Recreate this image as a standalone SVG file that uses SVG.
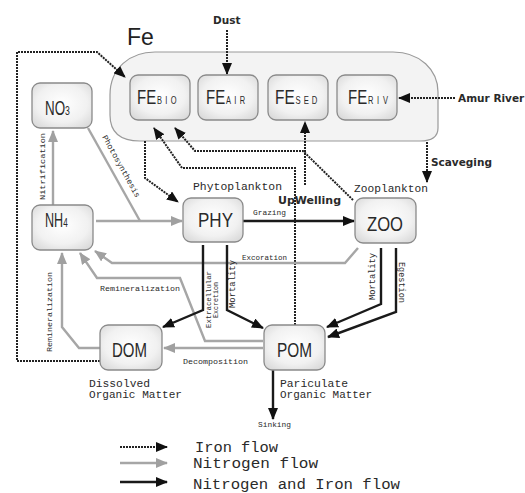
<svg xmlns="http://www.w3.org/2000/svg" width="525" height="493" viewBox="0 0 525 493">
<style>
.box{fill:url(#bg);stroke:#8a8a8a;stroke-width:1.3}
.big{font-family:"Liberation Sans",Arial,sans-serif;font-size:20px;fill:#2a2a2a}
.mono{font-family:"Liberation Mono","DejaVu Sans Mono",monospace;fill:#2a2a2a}
.sans{font-family:"DejaVu Sans",Verdana,sans-serif;fill:#2a2a2a;font-weight:bold}
.fe{fill:none;stroke:#222;stroke-width:2;stroke-dasharray:2 1}
.n{fill:none;stroke:#a6a6a6;stroke-width:2.4}
.b{fill:none;stroke:#1a1a1a;stroke-width:2.4}
</style>
<defs>
<radialGradient id="bg" cx="50%" cy="45%" r="70%">
<stop offset="0" stop-color="#ffffff"/>
<stop offset="0.6" stop-color="#f1f1f1"/>
<stop offset="1" stop-color="#d6d6d6"/>
</radialGradient>
<marker id="ak" markerWidth="12" markerHeight="10" refX="11" refY="5" orient="auto" markerUnits="userSpaceOnUse"><path d="M0,0 L12,5 L0,10 z" fill="#111"/></marker>
<marker id="ag" markerWidth="12" markerHeight="10" refX="11" refY="5" orient="auto" markerUnits="userSpaceOnUse"><path d="M0,0 L12,5 L0,10 z" fill="#a0a0a0"/></marker>
</defs>
<rect width="525" height="493" fill="#ffffff"/>

<g id="fe-pool">
<path d="M155,52 H393 C420,52 438,70 438,92 V128 Q438,141 420,141 H140 Q110,141 110,115 V95 C110,68 130,52 155,52 Z" fill="#f3f3f3" stroke="#9a9a9a" stroke-width="1.2"/>
<text x="127" y="45" font-family="Liberation Sans,Arial,sans-serif" font-size="23" fill="#222">Fe</text>
</g>

<g id="connectors">
<!-- iron flows -->
<path class="fe" d="M227,30 V74" marker-end="url(#ak)"/>
<path class="fe" d="M455,98 H399" marker-end="url(#ak)"/>
<path class="fe" d="M427,142 V182" marker-end="url(#ak)"/>
<path class="fe" d="M100,361 H17 V52 H97 L125,77" marker-end="url(#ak)"/>
<path class="fe" d="M145,141 V178 L178,202" marker-end="url(#ak)"/>
<path class="fe" d="M295,325 V168 H182 L154,128" marker-end="url(#ak)"/>
<path class="fe" d="M353,200 L303,151 H195 L175,128" marker-end="url(#ak)"/>
<path class="fe" d="M305,185 V122" marker-end="url(#ak)"/>
<!-- nitrogen flows -->
<path class="n" d="M53,205 V131" marker-end="url(#ag)"/>
<path class="n" d="M96,221 H182" marker-end="url(#ag)"/>
<path class="n" d="M88,128 L140,221"/>
<path class="n" d="M358,248 L345,263 H112 L95,251" marker-end="url(#ag)"/>
<path class="n" d="M263,341 H205 L180,278 H97 L80,253" marker-end="url(#ag)"/>
<path class="n" d="M100,348 H79 L62,327 V253" marker-end="url(#ag)"/>
<path class="n" d="M263,348 H164" marker-end="url(#ag)"/>
<!-- nitrogen and iron flows -->
<path class="b" d="M243,221 H354" stroke="#333" marker-end="url(#ak)"/>
<path class="b" d="M203,245 V310 L163,327" marker-end="url(#ak)"/>
<path class="b" d="M227,245 V310 L263,328" marker-end="url(#ak)"/>
<path class="b" d="M381,248 V304 L327,327" marker-end="url(#ak)"/>
<path class="b" d="M396,248 V312 L328,337" marker-end="url(#ak)"/>
<path class="b" d="M273,370 V419" marker-end="url(#ak)"/>
<!-- legend lines -->
<path class="fe" d="M120,447 H167" marker-end="url(#ak)"/>
<path class="n" d="M120,463 H167" marker-end="url(#ag)"/>
<path class="b" d="M120,482 H167" marker-end="url(#ak)"/>
</g>

<g id="no3"><rect class="box" x="32" y="83" width="60" height="45" rx="8"/>
<text class="big" transform="translate(45,115) scale(0.67,1)">NO<tspan font-size="13">3</tspan></text></g>
<g id="nh4"><rect class="box" x="32" y="205" width="61" height="45" rx="8"/>
<text class="big" transform="translate(45,227) scale(0.63,1)">NH<tspan font-size="13">4</tspan></text></g>
<g id="febio"><rect class="box" x="130" y="75" width="60" height="45" rx="8"/>
<text class="big" transform="translate(137,104) scale(0.75,1)">FE<tspan font-size="10" letter-spacing="4.5" dx="1">BIO</tspan></text></g>
<g id="feair"><rect class="box" x="198" y="75" width="60" height="45" rx="8"/>
<text class="big" transform="translate(206,104) scale(0.75,1)">FE<tspan font-size="10" letter-spacing="4.5" dx="1">AIR</tspan></text></g>
<g id="fesed"><rect class="box" x="268" y="75" width="60" height="45" rx="8"/>
<text class="big" transform="translate(275,104) scale(0.77,1)">FE<tspan font-size="10" letter-spacing="4" dx="1">SED</tspan></text></g>
<g id="feriv"><rect class="box" x="337" y="75" width="60" height="45" rx="8"/>
<text class="big" transform="translate(348,104) scale(0.75,1)">FE<tspan font-size="10" letter-spacing="5" dx="1">RIV</tspan></text></g>
<g id="phy"><rect class="box" x="183" y="198" width="60" height="44" rx="8"/>
<text class="big" x="198" y="227" textLength="35" lengthAdjust="spacingAndGlyphs">PHY</text></g>
<g id="zoo"><rect class="box" x="355" y="198" width="61" height="45" rx="8"/>
<text class="big" x="367" y="231" textLength="36" lengthAdjust="spacingAndGlyphs">ZOO</text></g>
<g id="dom"><rect class="box" x="100" y="325" width="62" height="45" rx="8"/>
<text class="big" x="112" y="357" textLength="35" lengthAdjust="spacingAndGlyphs">DOM</text></g>
<g id="pom"><rect class="box" x="264" y="325" width="61" height="45" rx="8"/>
<text class="big" x="277" y="357" textLength="35" lengthAdjust="spacingAndGlyphs">POM</text></g>

<g id="labels">
<text class="sans" x="213" y="24" font-size="10.5">Dust</text>
<text class="sans" x="458" y="102" font-size="10.5">Amur River</text>
<text class="sans" x="431" y="166" font-size="10.5">Scaveging</text>
<text class="sans" x="278" y="204" font-size="11" fill="#444">UpWelling</text>
<text class="mono" x="193" y="190" font-size="11.5" textLength="89" lengthAdjust="spacingAndGlyphs">Phytoplankton</text>
<text class="mono" x="354" y="192" font-size="11.5" textLength="74" lengthAdjust="spacingAndGlyphs">Zooplankton</text>
<text class="mono" x="253" y="215" font-size="7.5" textLength="33" lengthAdjust="spacingAndGlyphs">Grazing</text>
<text class="mono" x="242" y="260" font-size="7.5" textLength="45" lengthAdjust="spacingAndGlyphs">Excoration</text>
<text class="mono" x="100" y="291" font-size="8" textLength="80" lengthAdjust="spacingAndGlyphs">Remineralization</text>
<text class="mono" x="183" y="364" font-size="7.5" textLength="65" lengthAdjust="spacingAndGlyphs">Decomposition</text>
<text class="mono" x="258" y="427" font-size="7.5" textLength="33" lengthAdjust="spacingAndGlyphs">Sinking</text>
<text class="mono" x="89" y="387" font-size="11" textLength="61" lengthAdjust="spacingAndGlyphs">Dissolved</text>
<text class="mono" x="89" y="398" font-size="11" textLength="93" lengthAdjust="spacingAndGlyphs">Organic Matter</text>
<text class="mono" x="280" y="387" font-size="11" textLength="68" lengthAdjust="spacingAndGlyphs">Pariculate</text>
<text class="mono" x="280" y="398" font-size="11" textLength="92" lengthAdjust="spacingAndGlyphs">Organic Matter</text>
<text class="mono" transform="translate(45,200) rotate(-90)" font-size="7.5" textLength="67" lengthAdjust="spacingAndGlyphs">Nitrification</text>
<text class="mono" transform="translate(102,137) rotate(61)" font-size="8" textLength="70" lengthAdjust="spacingAndGlyphs">Photosynthesis</text>
<text class="mono" transform="translate(52,352) rotate(-90)" font-size="8" textLength="80" lengthAdjust="spacingAndGlyphs">Remineralization</text>
<text class="mono" transform="translate(211,328) rotate(-90)" font-size="7.5" textLength="57" lengthAdjust="spacingAndGlyphs">Extracellular</text>
<text class="mono" transform="translate(218,318) rotate(-90)" font-size="7.5" textLength="36" lengthAdjust="spacingAndGlyphs">Excretion</text>
<text class="mono" transform="translate(235,308) rotate(-90)" font-size="8.5" textLength="48" lengthAdjust="spacingAndGlyphs">Mortality</text>
<text class="mono" transform="translate(375,300) rotate(-90)" font-size="8.5" textLength="47" lengthAdjust="spacingAndGlyphs">Mortality</text>
<text class="mono" transform="translate(399,262) rotate(90)" font-size="8.5" textLength="41" lengthAdjust="spacingAndGlyphs">Egestion</text>
</g>

<g id="legend">
<text class="mono" x="195" y="452" font-size="14" textLength="83" lengthAdjust="spacingAndGlyphs">Iron flow</text>
<text class="mono" x="193" y="468" font-size="14" textLength="125" lengthAdjust="spacingAndGlyphs">Nitrogen flow</text>
<text class="mono" x="193" y="489" font-size="14" textLength="207" lengthAdjust="spacingAndGlyphs">Nitrogen and Iron flow</text>
</g>
</svg>
